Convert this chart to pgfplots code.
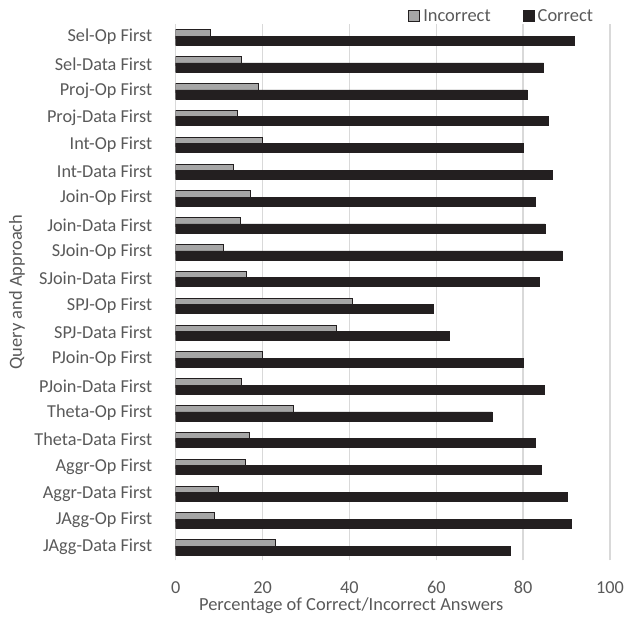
\documentclass[border=0pt]{standalone}
\usepackage{pgfplots}
\pgfplotsset{compat=1.18}
\usepackage{fontspec}
\setmainfont{Carlito}
\definecolor{txt}{HTML}{595959}
\definecolor{grd}{HTML}{D9D9D9}
\definecolor{dk}{HTML}{231F20}
\definecolor{gr}{HTML}{A6A6A6}
\begin{document}
\begin{tikzpicture}
\useasboundingbox (-175.7bp,-57.6bp) rectangle (449.3bp,560.4bp);
\begin{axis}[
  at={(0,0)}, anchor=south west,
  width=434.3bp, height=536.8bp, scale only axis,
  xbar, bar width=9bp,
  xmin=0, xmax=100, ymin=-0.5, ymax=19.5,
  xtick={0,20,...,100},
  ytick={0,...,19},
  yticklabels={JAgg-Data First, JAgg-Op First, Aggr-Data First, Aggr-Op First, Theta-Data First, Theta-Op First, PJoin-Data First, PJoin-Op First, SPJ-Data First, SPJ-Op First, SJoin-Data First, SJoin-Op First, Join-Data First, Join-Op First, Int-Data First, Int-Op First, Proj-Data First, Proj-Op First, Sel-Data First, Sel-Op First},
  xmajorgrids, major grid style={grd, line width=1.3bp},
  tick style={draw=none}, axis line style={draw=none},
  /pgf/number format/assume math mode=true,
  ticklabel style={font=\fontsize{18.3}{21}\selectfont, text=txt},
  yticklabel style={anchor=east, inner sep=0pt, xshift=-19bp},
  xticklabel style={anchor=base, yshift=-33bp},
  xlabel={Percentage of Correct/Incorrect Answers},
  xlabel style={at={(axis description cs:0.404,0)}, anchor=base, yshift=-49.6bp, font=\fontsize{18.5}{21}\selectfont, text=txt},
  ylabel={Query and Approach},
  ylabel style={at={(axis description cs:-0.3654,0.5)}, anchor=center, font=\fontsize{18.5}{21}\selectfont, text=txt},
  legend style={draw=none, fill=none, at={(0.535,1.0134)}, anchor=west, inner sep=0pt,
    font=\fontsize{18.5}{21}\selectfont, text=txt, legend columns=2,
    nodes={inner sep=0pt}, column sep=3bp,
    /tikz/every even column/.append style={column sep=32bp}},
  legend image code/.code={\draw[#1, line width=1bp] (0bp,-5.5bp) rectangle (11bp,5.5bp);},
]
\addplot[fill=gr, draw=dk, line width=1bp, bar shift=2.7bp] coordinates {
 (8.1,19) (15.2,18) (19.1,17) (14.2,16) (19.9,15) (13.4,14) (17.3,13) (15.0,12) (10.9,11) (16.2,10)
 (40.8,9) (37.0,8) (20.0,7) (15.1,6) (27.2,5) (17.1,4) (16.0,3) (9.9,2) (9.0,1) (23.0,0)};
\addlegendentry{Incorrect}
\addplot[fill=dk, draw=dk, line width=0.5bp, bar shift=-3.6bp] coordinates {
 (91.8,19) (84.7,18) (80.9,17) (85.8,16) (80.1,15) (86.6,14) (82.7,13) (85.0,12) (89.0,11) (83.7,10)
 (59.2,9) (63.0,8) (80.0,7) (84.9,6) (72.8,5) (82.9,4) (84.1,3) (90.2,2) (91.1,1) (77.0,0)};
\addlegendentry{Correct}
\end{axis}
\end{tikzpicture}
\end{document}
